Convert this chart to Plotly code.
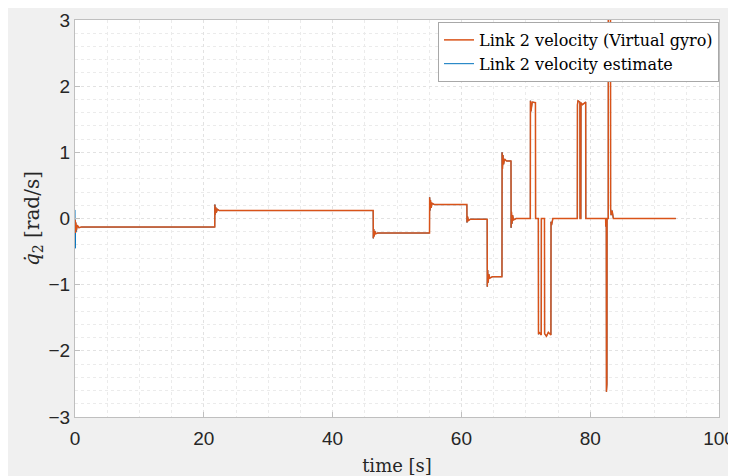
import plotly.graph_objects as go

# Link 2 velocity (Virtual gyro) - breakpoints
gyro_t = [0.0, 0.03, 0.08, 0.14, 0.22, 0.35, 0.6, 1.0,
          21.7, 21.72, 21.78, 21.85, 21.95, 22.1, 22.4,
          46.3, 46.32, 46.38, 46.45, 46.55, 46.7, 47.0,
          55.05, 55.07, 55.13, 55.2, 55.3, 55.45, 55.8,
          60.85, 60.87, 60.95, 61.1, 61.4,
          64.0, 64.02, 64.08, 64.15, 64.25, 64.4, 64.8,
          66.3, 66.32, 66.38, 66.45, 66.55, 66.7, 67.0,
          67.7, 67.72, 67.78, 67.85, 67.95, 68.1, 68.5,
          70.7, 70.72, 70.8, 71.0, 71.5, 71.52, 71.95, 71.97, 72.1, 72.4, 72.42,
          72.9, 72.92, 73.2, 73.5, 73.9, 73.92, 74.0, 74.2,
          78.0, 78.02, 78.1, 78.4, 78.42, 78.55, 78.57, 78.8, 79.3, 79.32, 79.4,
          82.4, 82.42, 82.45, 82.5, 82.52, 82.6, 82.62, 82.8, 82.82, 83.15, 83.17,
          83.25, 83.4, 83.6, 93.3]
gyro_v = [-0.13, -0.02, -0.22, -0.06, -0.18, -0.10, -0.14, -0.13,
          -0.13, 0.21, 0.06, 0.17, 0.09, 0.14, 0.12,
          0.12, -0.30, -0.16, -0.27, -0.19, -0.23, -0.22,
          -0.22, 0.32, 0.12, 0.28, 0.16, 0.23, 0.21,
          0.21, -0.06, 0.03, -0.03, -0.01,
          -0.01, -1.03, -0.78, -0.97, -0.84, -0.90, -0.88,
          -0.88, 1.00, 0.75, 0.96, 0.82, 0.90, 0.87,
          0.87, -0.14, 0.10, -0.08, 0.05, -0.02, 0.0,
          0.0, 1.78, 1.62, 1.76, 1.75, 0.0, 0.0, -1.75, -1.72, -1.76, 0.0,
          0.0, -1.74, -1.78, -1.72, -1.76, -0.05, -0.10, 0.0,
          0.0, 1.72, 1.78, 1.76, 0.0, 0.0, 1.75, 1.72, 1.76, 0.0, 0.0,
          0.0, -0.12, 0.0, 0.0, -2.62, -2.5, 0.0, 0.0, 3.4, 3.4, 0.15,
          0.05, 0.12, 0.0, 0.0]

# Link 2 velocity estimate - initial transient, then it follows the gyro signal
est_t_start = [0.0, 0.04, 0.1, 0.2, 0.35, 0.6]
est_v_start = [0.13, -0.45, -0.05, -0.20, -0.10, -0.14]

est_t = est_t_start + [t for t in gyro_t if t >= 1.0]
est_v = est_v_start + [v for t, v in zip(gyro_t, gyro_v) if t >= 1.0]

x_ticks = [0, 20, 40, 60, 80, 100]
y_ticks = [-3, -2, -1, 0, 1, 2, 3]

fig = go.Figure()
fig.add_trace(go.Scatter(x=est_t, y=est_v, mode="lines",
                         name="Link 2 velocity estimate",
                         line=dict(color="#0072BD", width=1.0)))
fig.add_trace(go.Scatter(x=gyro_t, y=gyro_v, mode="lines",
                         name="Link 2 velocity (Virtual gyro)",
                         line=dict(color="#D95319", width=1.5)))

axis_common = dict(
    showline=True, mirror=True, linecolor="#bfbfbf", linewidth=1,
    ticks="inside", ticklen=5, tickcolor="#bfbfbf",
    showgrid=True, gridcolor="#e2e2e2", gridwidth=1, griddash="dot",
    zeroline=False, automargin=False,
    tickfont=dict(family="Liberation Sans, Arial", size=19, color="#262626"),
)

fig.update_xaxes(range=[0, 100], tickvals=x_ticks, **axis_common,
                 ticklabelstandoff=4,
                 minor=dict(dtick=5, showgrid=True, gridcolor="#ebebeb",
                            griddash="dot", ticks=""),
                 title=dict(text="time [s]", standoff=12,
                            font=dict(family="DejaVu Serif", size=18, color="#262626")))
fig.update_yaxes(range=[-3, 3], tickvals=y_ticks, **axis_common,
                 minor=dict(dtick=0.2, showgrid=True, gridcolor="#ebebeb",
                            griddash="dot", ticks=""),
                 title=dict(text="<i>q\u0307</i><sub>2</sub> [rad/s]", standoff=3,
                            font=dict(family="DejaVu Serif", size=20, color="#262626")))

fig.update_layout(
    width=728, height=468,
    margin=dict(l=67, r=17, t=12, b=59),
    paper_bgcolor="#f0f0f0", plot_bgcolor="white",
    showlegend=True,
    legend=dict(x=1, xanchor="right", y=0.995, yanchor="top",
                traceorder="reversed",
                bgcolor="white", bordercolor="#a8a8a8", borderwidth=1,
                itemwidth=30, tracegroupgap=0,
                font=dict(family="DejaVu Serif", size=16, color="#000000")),
)

fig.write_html("out.html")
